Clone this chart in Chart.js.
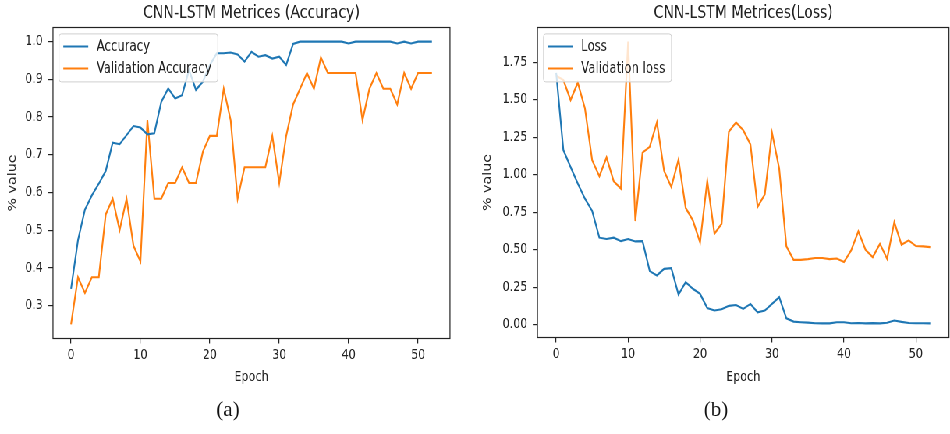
<!DOCTYPE html>
<html>
<head>
<meta charset="utf-8">
<script src="https://cdn.jsdelivr.net/npm/chart.js@4.4.1/dist/chart.umd.min.js"></script>
<style>
  html, body { margin: 0; padding: 0; background: #fff; width: 950px; height: 434px; overflow: hidden; }
  #stage { position: absolute; left: 0; top: 0; width: 1218px; height: 434px;
           transform: scaleX(0.78); transform-origin: 0 0; }
  .panel { position: absolute; top: 0; width: 609px; height: 434px; }
  .cap { position: absolute; top: 397px; width: 80px; text-align: center;
         font-family: "Liberation Serif", "DejaVu Serif", serif; font-size: 21px; color: #111; }
</style>
</head>
<body>
<div id="stage">
  <canvas id="acc" class="panel" width="609" height="434" style="left:0"></canvas>
  <canvas id="loss" class="panel" width="609" height="434" style="left:609px"></canvas>
</div>
<div class="cap" style="left:188px">(a)</div>
<div class="cap" style="left:676px">(b)</div>
<script>
// Training history of the CNN-LSTM model, one value per epoch.
const epochs = [0, 1, 2, 3, 4, 5, 6, 7, 8, 9, 10, 11, 12, 13, 14, 15, 16, 17, 18, 19, 20,
  21, 22, 23, 24, 25, 26, 27, 28, 29, 30, 31, 32, 33, 34, 35, 36, 37, 38, 39, 40,
  41, 42, 43, 44, 45, 46, 47, 48, 49, 50, 51, 52];

const accuracy = [0.344, 0.473, 0.554, 0.592, 0.623, 0.657, 0.732, 0.728, 0.752, 0.776, 0.772,
  0.754, 0.757, 0.840, 0.876, 0.849, 0.858, 0.925, 0.872, 0.894, 0.938,
  0.969, 0.969, 0.971, 0.966, 0.947, 0.973, 0.960, 0.964, 0.955, 0.960, 0.938,
  0.994, 1.0, 1.0, 1.0, 1.0, 1.0, 1.0, 1.0, 0.995, 1.0, 1.0, 1.0, 1.0, 1.0, 1.0,
  0.995, 1.0, 0.995, 1.0, 1.0, 1.0];

const valAccuracy = [0.25, 0.375, 0.3333, 0.375, 0.375, 0.5417, 0.5833, 0.5, 0.5833, 0.4583,
  0.4167, 0.7917, 0.5833, 0.5833, 0.625, 0.625, 0.6667, 0.625, 0.625, 0.7083, 0.75,
  0.75, 0.875, 0.7917, 0.5833, 0.6667, 0.6667, 0.6667, 0.6667, 0.75, 0.625, 0.75,
  0.8333, 0.875, 0.9167, 0.875, 0.9583, 0.9167, 0.9167, 0.9167, 0.9167, 0.9167,
  0.7917, 0.875, 0.9167, 0.875, 0.875, 0.8333, 0.9167, 0.875, 0.9167, 0.9167, 0.9167];

const loss = [1.68, 1.164, 1.052, 0.941, 0.840, 0.758, 0.580, 0.571, 0.580, 0.557, 0.571,
  0.555, 0.557, 0.357, 0.328, 0.372, 0.377, 0.200, 0.283, 0.239, 0.205,
  0.111, 0.094, 0.103, 0.125, 0.131, 0.105, 0.138, 0.082, 0.094, 0.138, 0.183,
  0.042, 0.020, 0.016, 0.013, 0.009, 0.008, 0.008, 0.016, 0.016, 0.009, 0.011,
  0.008, 0.010, 0.008, 0.012, 0.027, 0.018, 0.011, 0.009, 0.009, 0.008];

const valLoss = [1.66, 1.632, 1.498, 1.614, 1.442, 1.097, 0.990, 1.115, 0.956, 0.907,
  1.888, 0.691, 1.148, 1.186, 1.349, 1.025, 0.918, 1.101, 0.778, 0.696, 0.548,
  0.959, 0.606, 0.673, 1.286, 1.349, 1.297, 1.202, 0.785, 0.869, 1.280, 1.041,
  0.522, 0.432, 0.432, 0.437, 0.444, 0.444, 0.437, 0.441, 0.417, 0.495, 0.622,
  0.499, 0.450, 0.539, 0.439, 0.684, 0.533, 0.562, 0.524, 0.522, 0.517];

const epochTicks = [0, 10, 20, 30, 40, 50];
const accTicks = [0.3, 0.4, 0.5, 0.6, 0.7, 0.8, 0.9, 1.0];
const lossTicks = [0, 0.25, 0.5, 0.75, 1.0, 1.25, 1.5, 1.75];

const BLUE = '#1f77b4';
const ORANGE = '#ff7f0e';
const INK = '#222222';
const FONT = '"DejaVu Sans", sans-serif';
const SQUEEZE = 0.78;     // horizontal scale applied to #stage
const PANEL_W = 609;

// axis limits with a 5% margin around the data
function padded(values, frac) {
  const lo = Math.min(...values), hi = Math.max(...values);
  const m = (hi - lo) * frac;
  return [lo - m, hi + m];
}

// frame around the plot area plus a boxed legend in its upper-left corner
const framePlugin = {
  id: 'frame',
  afterDraw(chart, args, opts) {
    const { ctx, chartArea: a } = chart;
    ctx.save();
    ctx.strokeStyle = INK;
    ctx.lineWidth = 1.2;
    ctx.strokeRect(a.left, a.top, a.right - a.left, a.bottom - a.top);

    const items = chart.data.datasets;
    ctx.font = opts.fontSize + 'px ' + FONT;
    const textW = Math.max(...items.map(d => ctx.measureText(d.label).width));
    const x0 = a.left + 7.7, y0 = a.top + 6.4;
    const w = 5.5 + 32 + 10.8 + textW + 8, h = 48;
    ctx.beginPath();
    ctx.roundRect(x0, y0, w, h, 3);
    ctx.fillStyle = 'rgba(255,255,255,0.8)';
    ctx.fill();
    ctx.strokeStyle = '#cfcfcf';
    ctx.lineWidth = 1;
    ctx.stroke();
    items.forEach((d, i) => {
      const y = y0 + 12.5 + i * 22;
      ctx.beginPath();
      ctx.moveTo(x0 + 5.5, y);
      ctx.lineTo(x0 + 5.5 + 32, y);
      ctx.strokeStyle = d.borderColor;
      ctx.lineWidth = 2;
      ctx.stroke();
      ctx.fillStyle = INK;
      ctx.textBaseline = 'middle';
      ctx.textAlign = 'left';
      ctx.fillText(d.label, x0 + 5.5 + 32 + 10.8, y + 0.5);
    });
    ctx.restore();
  }
};

function makeChart(id, cfg) {
  const offset = cfg.index * PANEL_W;
  const axisW = cfg.left / SQUEEZE - offset;
  const padRight = PANEL_W - (cfg.right / SQUEEZE - offset);
  const [ymin, ymax] = padded(cfg.series[0].concat(cfg.series[1]), 0.05);
  const [xmin, xmax] = padded(epochs, 0.05);
  const tickFont = { family: FONT, size: 14.3 };
  const line = (label, vals, color) => ({
    label,
    data: epochs.map((e, i) => ({ x: e, y: vals[i] })),
    borderColor: color,
    backgroundColor: color,
    borderWidth: 2.1,
    pointRadius: 0,
    tension: 0,
    fill: false
  });
  return new Chart(document.getElementById(id), {
    type: 'line',
    data: {
      datasets: [
        line(cfg.names[0], cfg.series[0], BLUE),
        line(cfg.names[1], cfg.series[1], ORANGE)
      ]
    },
    options: {
      responsive: false,
      animation: false,
      devicePixelRatio: 1,
      layout: { padding: { left: 0, right: padRight, top: 0, bottom: 0 } },
      plugins: {
        legend: { display: false },
        tooltip: { enabled: false },
        title: {
          display: true, text: cfg.title, fullSize: false, color: INK,
          font: { family: FONT, size: 18, weight: 'normal', lineHeight: 1.2 },
          padding: { top: 3, bottom: 2.9 }
        },
        frame: { fontSize: 15 }
      },
      scales: {
        x: {
          type: 'linear', min: xmin, max: xmax,
          afterBuildTicks: s => { s.ticks = epochTicks.map(v => ({ value: v })); },
          afterFit: s => { s.height = 434 - cfg.bottom; },
          grid: { drawOnChartArea: false, drawTicks: true, tickLength: 5, color: INK, lineWidth: 1.2 },
          border: { display: false },
          ticks: { color: INK, font: tickFont, padding: 3, maxRotation: 0, autoSkip: false,
                   callback: v => String(v) },
          title: { display: true, text: 'Epoch', color: INK, font: tickFont,
                   padding: { top: 0, bottom: 48.4 } }
        },
        y: {
          type: 'linear', min: ymin, max: ymax,
          afterBuildTicks: s => { s.ticks = cfg.ticks.map(v => ({ value: v })); },
          afterFit: s => { s.width = axisW; },
          grid: { drawOnChartArea: false, drawTicks: true, tickLength: 6, color: INK, lineWidth: 1.2 },
          border: { display: false },
          ticks: { color: INK, font: tickFont, padding: 7, autoSkip: false,
                   callback: v => v.toFixed(cfg.decimals) },
          title: { display: true, text: '% value', color: INK, font: tickFont,
                   padding: { top: cfg.ylabelPad, bottom: 0 } }
        }
      }
    },
    plugins: [framePlugin]
  });
}

makeChart('acc', {
  index: 0, left: 53, right: 450, bottom: 338.5,
  title: 'CNN-LSTM Metrices (Accuracy)',
  names: ['Accuracy', 'Validation Accuracy'],
  series: [accuracy, valAccuracy],
  ticks: accTicks, decimals: 1, ylabelPad: 7.7
});

makeChart('loss', {
  index: 1, left: 537.5, right: 949, bottom: 337.5,
  title: 'CNN-LSTM Metrices(Loss)',
  names: ['Loss', 'Validation loss'],
  series: [loss, valLoss],
  ticks: lossTicks, decimals: 2, ylabelPad: 7.4
});
</script>
</body>
</html>
